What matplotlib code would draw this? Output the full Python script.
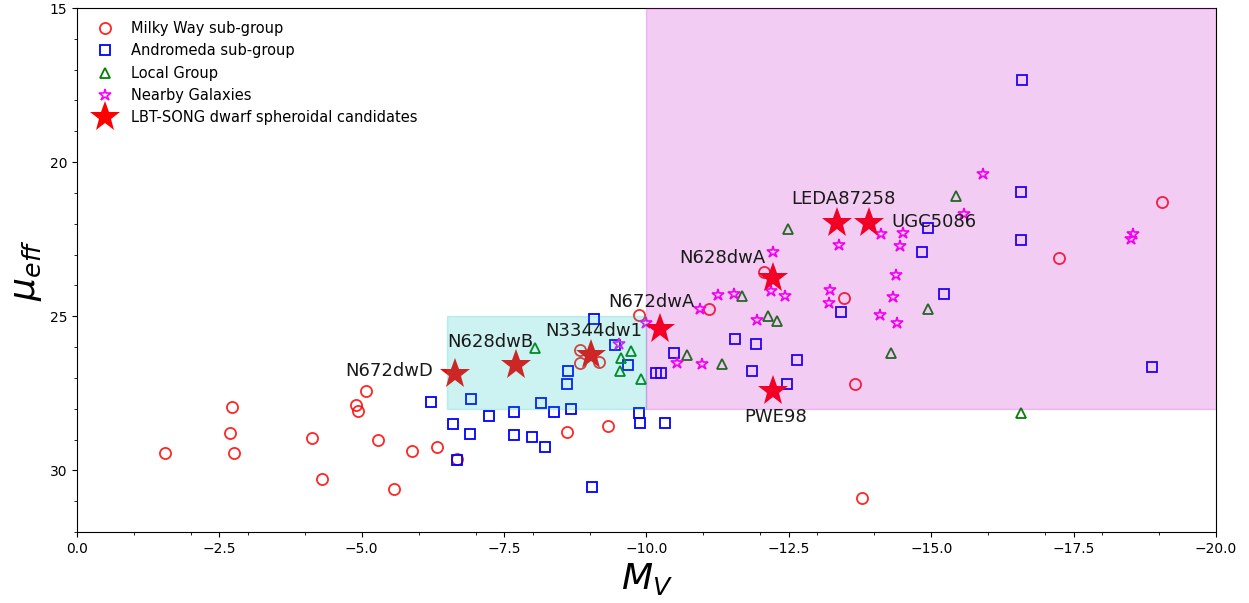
import numpy as np
import matplotlib
matplotlib.use('Agg')
import matplotlib.pyplot as plt
from matplotlib.patches import Rectangle
from matplotlib.ticker import MultipleLocator

# Milky Way sub-group (Mv, mu_eff)
mw_mv = [-1.54, -2.73, -2.69, -2.75, -4.12, -4.30, -5.07, -4.90, -4.94, -5.28, -5.56, -5.88, -6.33, -6.68,
         -8.83, -8.84, -9.17, -9.86, -8.61, -9.32, -11.10, -12.07, -13.47, -13.66, -13.79, -17.25, -19.05]
mw_mu = [29.45, 27.93, 28.80, 29.45, 28.94, 30.27, 27.44, 27.88, 28.06, 29.02, 30.61, 29.37, 29.24, 29.64,
         26.09, 26.52, 26.50, 24.97, 28.77, 28.56, 24.78, 23.56, 24.40, 27.19, 30.90, 23.10, 21.29]

# Andromeda sub-group
m31_mv = [-6.22, -6.92, -6.61, -6.91, -6.68, -7.24, -7.67, -7.68, -7.99, -8.15, -8.38, -8.68, -8.21,
          -8.60, -8.62, -9.07, -9.44, -9.67, -9.86, -9.89, -10.32, -9.04, -10.17, -10.25, -10.48,
          -11.55, -11.92, -11.85, -12.46, -12.64, -13.41, -14.83, -14.94, -15.22, -16.59, -16.58,
          -16.58, -18.88]
m31_mu = [27.77, 27.69, 28.50, 28.82, 29.67, 28.24, 28.12, 28.85, 28.91, 27.80, 28.10, 28.02, 29.24,
          27.20, 26.77, 25.08, 25.92, 26.57, 28.13, 28.47, 28.47, 30.54, 26.85, 26.85, 26.19,
          25.73, 25.89, 26.76, 27.19, 26.41, 24.86, 22.92, 22.14, 24.29, 17.32, 20.96,
          22.52, 26.65]

# Local Group
lg_mv = [-8.05, -9.53, -9.56, -9.73, -9.91, -10.71, -11.33, -11.67, -12.14, -12.30, -12.49, -14.30,
         -14.94, -15.44, -16.58]
lg_mu = [26.03, 26.77, 26.36, 26.14, 27.03, 26.25, 26.55, 24.33, 24.98, 25.14, 22.18, 26.19,
         24.78, 21.09, 28.13]

# Nearby Galaxies
nb_mv = [-9.51, -10.00, -10.53, -10.98, -10.94, -11.25, -11.54, -11.94, -12.18, -12.22, -12.43, -13.20,
         -13.23, -13.38, -14.10, -14.11, -14.33, -14.38, -14.39, -14.45, -14.51, -15.57, -15.91,
         -18.50, -18.55]
nb_mu = [25.90, 25.22, 26.52, 26.54, 24.76, 24.32, 24.29, 25.13, 24.19, 22.91, 24.35, 24.57,
         24.15, 22.70, 24.97, 22.34, 24.37, 23.67, 25.22, 22.72, 22.31, 21.69, 20.39,
         22.48, 22.32]

# LBT-SONG candidates
lbt_names = ['N672dwD', 'N628dwB', 'N3344dw1', 'N672dwA', 'N628dwA', 'LEDA87258', 'UGC5086', 'PWE98']
lbt_mv = [-6.63, -7.71, -9.02, -10.24, -12.22, -13.35, -13.91, -12.22]
lbt_mu = [26.88, 26.57, 26.27, 25.42, 23.77, 21.96, 21.96, 27.42]
# label offsets (pixels) and alignment
lbt_off = [(-21, 3, 'right'), (-26, 23, 'center'), (3, 24, 'center'), (-9, 27, 'center'),
           (-7, 20, 'right'), (6, 24, 'center'), (22, 1, 'left'), (3, -26, 'center')]

fig = plt.figure(figsize=(12.49, 6.03), dpi=100)
ax = fig.add_axes([0.0616, 0.1177, 0.9120, 0.8690])

ax.plot(mw_mv, mw_mu, 'o', mfc='none', mec='r', mew=1.3, ms=8, alpha=0.85, label='Milky Way sub-group')
ax.plot(m31_mv, m31_mu, 's', mfc='none', mec='b', mew=1.3, ms=7.5, label='Andromeda sub-group')
ax.plot(lg_mv, lg_mu, '^', mfc='none', mec='g', mew=1.3, ms=7.5, label='Local Group')
ax.plot(nb_mv, nb_mu, '*', mfc='none', mec='#ff00ff', mew=1.2, ms=9, label='Nearby Galaxies')
ax.plot(lbt_mv, lbt_mu, '*', color='r', ms=23, mew=0, label='LBT-SONG dwarf spheroidal candidates')

for name, x, y, (dx, dy, ha) in zip(lbt_names, lbt_mv, lbt_mu, lbt_off):
    ax.annotate(name, (x, y), xytext=(dx, dy), textcoords='offset pixels',
                ha=ha, va='center', fontsize=13, color='#1a1a1a', zorder=5)

# shaded regions drawn over the points
ax.add_patch(Rectangle((-6.5, 25), -3.5, 3, color='c', alpha=0.2, zorder=3))
ax.add_patch(Rectangle((-10, 15), -10, 13, color='m', alpha=0.2, zorder=3))

ax.set_xlim(0, -20)
ax.set_ylim(32, 15)
ax.xaxis.set_major_locator(MultipleLocator(2.5))
ax.xaxis.set_minor_locator(MultipleLocator(1))
ax.yaxis.set_major_locator(MultipleLocator(5))
ax.yaxis.set_minor_locator(MultipleLocator(1))
ax.tick_params(labelsize=10)

ax.set_xlabel(r'$M_V$', fontsize=26)
ax.set_ylabel(r'$\mu_{eff}$', fontsize=26)

ax.legend(loc='upper left', frameon=False, fontsize=10.5, numpoints=1)

fig.savefig('out.png', dpi=100)
